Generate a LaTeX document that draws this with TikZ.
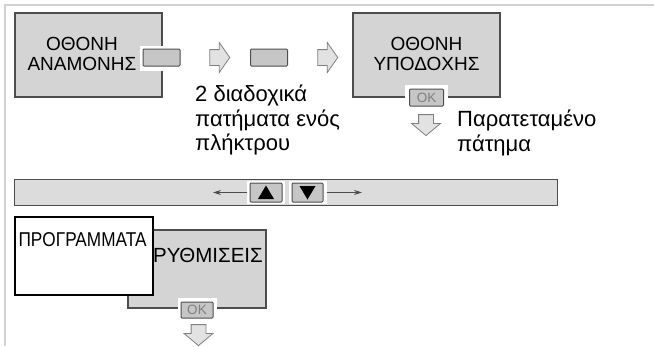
\documentclass[tikz,border=0pt]{standalone}
\usepackage{fontspec}
\setmainfont{Liberation Sans}
\newfontfamily\narrowfont[FakeStretch=0.86]{Liberation Sans}
\usepackage{tikz}
\usetikzlibrary{arrows.meta, positioning, shapes.arrows}

\definecolor{screengray}{HTML}{D4D4D4}
\definecolor{bargray}{HTML}{DCDCDC}
\definecolor{keygray}{HTML}{C6C6C6}
\definecolor{edgegray}{HTML}{4D4D4D}
\definecolor{framegray}{HTML}{D2D2D2}
\definecolor{arrowgray}{HTML}{E2E2E2}

\tikzset{
  screen/.style={draw=edgegray, fill=screengray, line width=1.2pt, inner sep=0pt},
  key/.style={draw=edgegray, fill=keygray, line width=1pt, rounded corners=1pt, inner sep=0pt},
  halo/.style={fill=white, inner sep=0pt},
  hollow/.style={single arrow, draw=gray, fill=arrowgray, line width=0.8pt, inner xsep=0pt, inner ysep=7.5pt,
    single arrow head extend=7pt, minimum height=20pt, single arrow tip angle=110},
  hollowdown/.style={hollow, rotate=-90, inner ysep=7pt, single arrow tip angle=100, minimum height=21pt},
  label/.style={font=\fontsize{19}{20}\selectfont, align=center, inner sep=0pt},
  note/.style={font=\fontsize{22}{24.5}\selectfont, align=left, inner sep=0pt},
  oktext/.style={font=\fontsize{13.5}{13.5}\selectfont, text=gray},
}

\begin{document}
\begin{tikzpicture}[x=1pt, y=-1pt]
\useasboundingbox (0,0) rectangle (654,346);
\draw[framegray, line width=2pt] (5,346) -- (5,5) -- (654,5);

% standby screen
\node[screen, minimum width=147pt, minimum height=84pt] (standby) at (88.5,55) {};
\node[label] (standbytxt) at (82,54) {ΟΘΟΝΗ\\ΑΝΑΜΟΝΗΣ};
\node[halo, minimum width=43pt, minimum height=25pt] (halo1) at (161.5,58.5) {};
\node[key, minimum width=37pt, minimum height=17pt] (press1) at (161.5,57.5) {};

\node[hollow] (step1) at (217,57.5) {};
\node[key, minimum width=37pt, minimum height=17pt] (press2) at (269,57.5) {};
\node[hollow] (step2) at (325,57.5) {};

\node[note, anchor=north west] (twicetxt) at (195,85) {2 διαδοχικά\\πατήματα ενός\\πλήκτρου};

% accept screen
\node[screen, minimum width=147pt, minimum height=84pt] (accept) at (426.5,55) {};
\node[label] (accepttxt) at (426.5,54) {ΟΘΟΝΗ\\ΥΠΟΔΟΧΗΣ};
\node[halo, minimum width=43pt, minimum height=24pt] (halo2) at (426.5,96.5) {};
\node[key, minimum width=34pt, minimum height=17pt, oktext] (ok1) at (426.5,97.5) {OK};
\node[hollowdown] (hold) at (426,122) {};
\node[note, anchor=north west] (holdtxt) at (457,110) {Παρατεταμένο\\πάτημα};

% scroll bar
\node[draw=edgegray, fill=bargray, line width=1pt, minimum width=543pt, minimum height=26pt] (menubar) at (285.5,192) {};
\node[halo, minimum width=38pt, minimum height=23pt] (uphalo) at (266,192.5) {};
\node[halo, minimum width=38pt, minimum height=23pt] (downhalo) at (307.5,192.5) {};
\node[key, minimum width=32pt, minimum height=19pt] (upkey) at (266,192.5) {};
\node[key, minimum width=31pt, minimum height=19pt] (downkey) at (307.5,192.5) {};
\fill ([xshift=-8pt,yshift=-6.5pt]upkey.center) -- ([xshift=8pt,yshift=-6.5pt]upkey.center) -- ([yshift=7pt]upkey.center) -- cycle;
\fill ([xshift=-8pt,yshift=6.5pt]downkey.center) -- ([xshift=8pt,yshift=6.5pt]downkey.center) -- ([yshift=-7pt]downkey.center) -- cycle;
\coordinate (leftend) at (213,192.5);
\coordinate (rightend) at (362,192.5);
\draw[-{Stealth[length=8pt,width=5pt]}, edgegray, line width=0.8pt] (uphalo.west) -- (leftend);
\draw[-{Stealth[length=8pt,width=5pt]}, edgegray, line width=0.8pt] (downhalo.east) -- (rightend);

% menu pages
\node[screen, minimum width=138pt, minimum height=78pt] (settings) at (197,269) {};
\node[label, font=\fontsize{20.5}{20}\selectfont] (settingstxt) at (208,255) {ΡΥΘΜΙΣΕΙΣ};
\node[draw=black, fill=white, line width=1.2pt, minimum width=138pt, minimum height=78pt] (programs) at (84,256) {};
\node[label, font=\fontsize{20}{20}\selectfont] (programstxt) at (82.5,240) {\narrowfont ΠΡΟΓΡΑΜΜΑΤΑ};
\node[halo, minimum width=39pt, minimum height=24pt] (halo3) at (197,309.5) {};
\node[key, minimum width=32pt, minimum height=16pt, oktext] (ok2) at (197,310) {OK};
\node[hollowdown] (next) at (198.5,332) {};
\end{tikzpicture}
\end{document}
